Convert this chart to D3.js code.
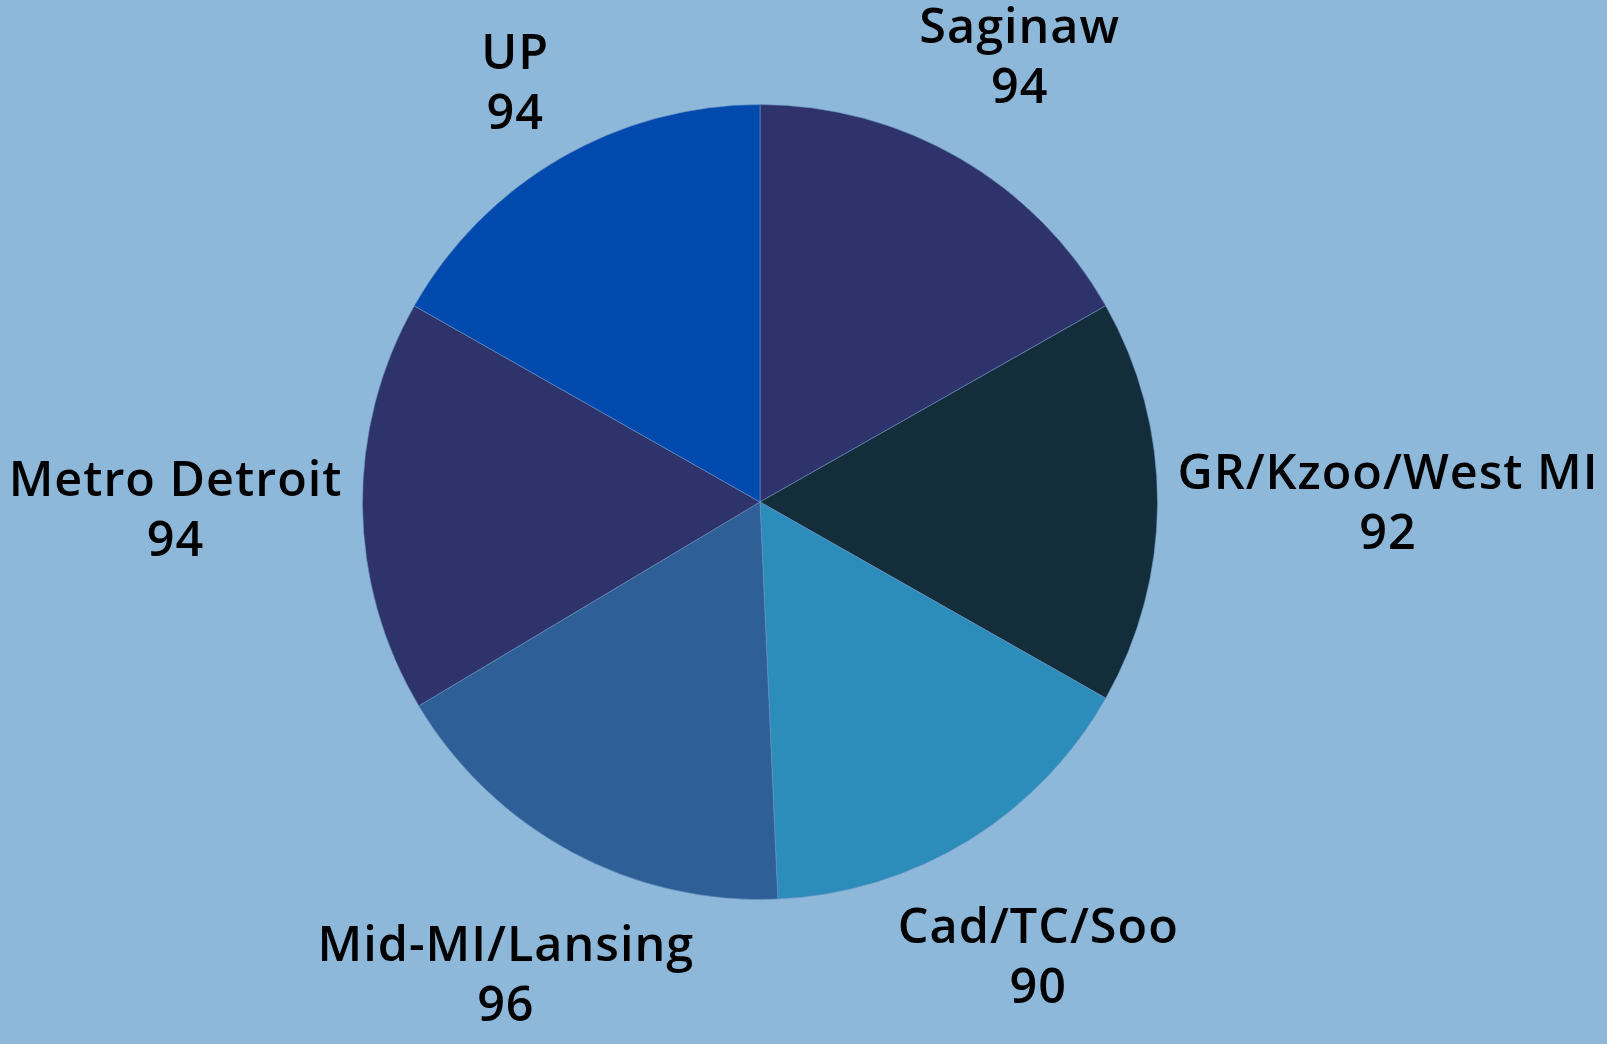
<!DOCTYPE html>
<html lang="en">
<head>
    <meta charset="UTF-8">
    <style>
        body {
            margin: 0;
            background: #8db8d9;
            overflow: hidden;
        }
        .labels text {
            font-family: "Open Sans", sans-serif;
            font-size: 48.5px;
            font-weight: 600;
            letter-spacing: 1px;
            fill: #000;
        }
    </style>
    <script src="https://d3js.org/d3.v7.min.js"></script>
</head>
<body>
    <svg width="1607" height="1044"></svg>
</body>

<script>
    var regions = ["Saginaw", "GR/Kzoo/West MI", "Cad/TC/Soo", "Mid-MI/Lansing", "Metro Detroit", "UP"];
    var scores = [94, 92, 90, 96, 94, 94];
    var colors = ["#2f336b", "#132d3b", "#2c8cba", "#2e5f96", "#2f336b", "#004aad"];

    var svg = d3.select("svg");
    var width = +svg.attr("width");
    var height = +svg.attr("height");

    svg.append("rect").attr("width", width).attr("height", height).attr("fill", "#8db8d9");

    var cx = 760, cy = 502;
    var radius = 397.5;
    var labelGap = 20;
    var lineHeight = 60;

    var data = regions.map(function(r, i) { return { name: r, value: scores[i], color: colors[i] }; });

    var pie = d3.pie().sort(null).value(function(d) { return d.value; });
    var arc = d3.arc().innerRadius(0).outerRadius(radius);

    var g = svg.append("g").attr("transform", "translate(" + cx + "," + cy + ")");

    g.append("g").selectAll("path")
        .data(pie(data)).enter()
        .append("path")
        .attr("d", arc)
        .attr("fill", function(d) { return d.data.color; })
        .attr("stroke", "#6f95c4")
        .attr("stroke-width", 0.6);

    var label = g.append("g").attr("class", "labels")
        .selectAll("g")
        .data(pie(data)).enter()
        .append("g");

    label.append("text")
        .attr("text-anchor", "middle")
        .each(function(d) {
            var t = d3.select(this);
            t.append("tspan").attr("x", 0).attr("y", -lineHeight / 2 + 17).text(d.data.name);
            t.append("tspan").attr("x", 0).attr("y", lineHeight / 2 + 17).text(d.data.value);
        });

    // push each label box outward along its mid angle until its nearest point sits just outside the pie
    label.attr("transform", function(d) {
        var bb = this.getBBox();
        var hw = bb.width / 2, hh = lineHeight;
        var a = (d.startAngle + d.endAngle) / 2;
        var ux = Math.sin(a), uy = -Math.cos(a);
        var lo = 0, hi = 1200;
        for (var k = 0; k < 60; k++) {
            var mid = (lo + hi) / 2;
            var x = mid * ux, y = mid * uy;
            var px = Math.max(x - hw, Math.min(0, x + hw));
            var py = Math.max(y - hh, Math.min(0, y + hh));
            if (Math.sqrt(px * px + py * py) < radius + labelGap) lo = mid; else hi = mid;
        }
        return "translate(" + (lo * ux) + "," + (lo * uy) + ")";
    });
</script>
</html>
